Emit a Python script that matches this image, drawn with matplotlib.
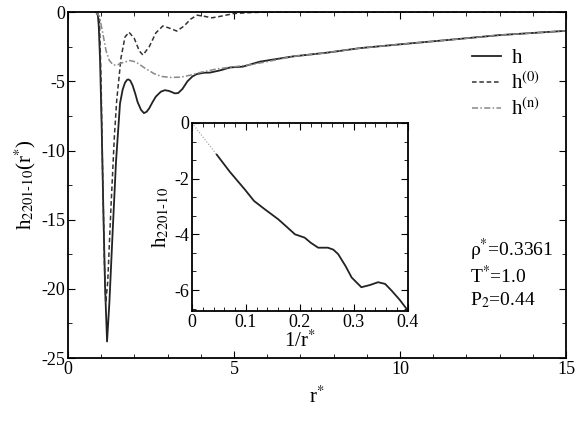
import matplotlib
matplotlib.use("Agg")
import matplotlib.pyplot as plt
from matplotlib.ticker import MultipleLocator, AutoMinorLocator, FormatStrFormatter

# main panel: h(r*) and its two parts
r_h = [0.85, 0.9, 0.93, 0.97, 1.02, 1.07, 1.12, 1.18, 1.25, 1.35, 1.45, 1.57,
       1.65, 1.72, 1.78, 1.82, 1.88, 1.95, 2.03, 2.1, 2.2, 2.29, 2.37, 2.45,
       2.55, 2.65, 2.8, 2.92, 3.05, 3.22, 3.32, 3.45, 3.6, 3.75, 3.88, 4.1,
       4.28, 4.6, 4.88, 5.27, 5.78, 6.78, 7.8, 8.8, 10.3, 11.5, 13.0, 15.0]
h = [0.0, -0.1, -1.0, -3.5, -8.5, -14.5, -19.8, -23.8, -21.0, -15.8, -10.8,
     -6.6, -5.6, -5.1, -4.9, -4.86, -4.95, -5.3, -5.9, -6.5, -7.05, -7.3,
     -7.2, -6.95, -6.5, -6.1, -5.75, -5.64, -5.7, -5.87, -5.85, -5.55, -5.0,
     -4.65, -4.48, -4.38, -4.37, -4.2, -4.0, -3.94, -3.58, -3.2, -2.93, -2.6,
     -2.26, -2.0, -1.66, -1.35]

r_h0 = [0.85, 0.95, 1.0, 1.05, 1.1, 1.14, 1.2, 1.3, 1.4, 1.47, 1.6, 1.72,
        1.84, 2.0, 2.15, 2.26, 2.45, 2.65, 2.86, 3.05, 3.28, 3.5, 3.7, 3.89,
        4.1, 4.34, 4.6, 5.0, 5.5, 6.0, 15.0]
h0 = [0.0, -0.5, -5.0, -12.0, -18.0, -21.0, -19.5, -14.0, -9.0, -6.4, -3.3,
      -1.8, -1.45, -1.9, -2.8, -3.1, -2.5, -1.5, -1.0, -1.15, -1.37, -1.0,
      -0.5, -0.22, -0.3, -0.41, -0.3, -0.1, -0.03, 0.0, 0.0]

r_hn = [0.85, 0.95, 1.05, 1.15, 1.25, 1.37, 1.5, 1.65, 1.87, 2.05, 2.32, 2.6,
        2.82, 3.1, 3.4, 3.7, 4.0, 4.5, 5.0, 5.5, 6.0, 6.78, 7.8, 8.8, 10.3,
        11.5, 13.0, 15.0]
hn = [0.0, -0.3, -1.5, -2.8, -3.5, -3.83, -3.8, -3.65, -3.5, -3.6, -4.05,
      -4.45, -4.65, -4.72, -4.7, -4.55, -4.35, -4.1, -3.95, -3.8, -3.58, -3.2,
      -2.93, -2.6, -2.26, -2.0, -1.66, -1.35]

# inset: h against 1/r*
inv_r_extrap = [0.0, 0.046]
h_extrap = [0.0, -1.14]
inv_r = [0.046, 0.07, 0.098, 0.115, 0.135, 0.16, 0.175, 0.191, 0.209, 0.22,
         0.234, 0.252, 0.262, 0.271, 0.285, 0.296, 0.314, 0.33, 0.345, 0.358,
         0.37, 0.385, 0.398]
h_inv = [-1.14, -1.75, -2.39, -2.8, -3.1, -3.46, -3.72, -4.0, -4.12, -4.3,
         -4.48, -4.48, -4.55, -4.71, -5.15, -5.55, -5.9, -5.82, -5.72, -5.78,
         -6.02, -6.35, -6.68]

plt.rcParams["font.family"] = ["Liberation Serif", "DejaVu Serif"]
plt.rcParams["mathtext.fontset"] = "stix"
plt.rcParams["axes.unicode_minus"] = False

fig = plt.figure(figsize=(5.8, 4.33), dpi=100)
ax = fig.add_axes([0.117, 0.173, 0.859, 0.799])

ax.plot(r_h, h, color="#222222", lw=1.3, label="h")
ax.plot(r_h0, h0, color="#333333", lw=1.1, ls=(0, (3, 1.8)),
        label=r"h$^{\rm (0)}$")
ax.plot(r_hn, hn, color="#888888", lw=1.1, ls=(0, (4, 1.5, 1, 1.5)),
        label=r"h$^{\rm (n)}$")

ax.set_xlim(0, 15)
ax.set_ylim(-25, 0)
ax.xaxis.set_major_locator(MultipleLocator(5))
ax.xaxis.set_minor_locator(MultipleLocator(1))
ax.yaxis.set_major_locator(MultipleLocator(5))
ax.yaxis.set_minor_locator(MultipleLocator(2.5))
ax.tick_params(which="both", direction="in", top=True, right=True,
               labelsize=13, pad=2)
ax.tick_params(which="major", length=5)
ax.tick_params(which="minor", length=3)
for s in ax.spines.values():
    s.set_linewidth(1.3)
ax.set_xlabel(r"r$^{*}$", fontsize=15, labelpad=6)
ax.set_ylabel(r"h$_{\rm 2201\text{-}10}$(r$^{*}$)", fontsize=15, labelpad=2)

ax.legend(loc="upper left", bbox_to_anchor=(0.79, 0.925), frameon=False,
          fontsize=15, handlelength=1.4, handletextpad=0.5, labelspacing=0.2,
          borderpad=0)

ax.text(12.1, -17.2, r"$\rm\rho^{*}$=0.3361", fontsize=14, va="center")
ax.text(12.1, -19.1, r"T$^{*}$=1.0", fontsize=14, va="center")
ax.text(12.1, -20.8, r"P$_{2}$=0.44", fontsize=14, va="center")

# inset
ins = fig.add_axes([0.331, 0.282, 0.372, 0.434])
ins.plot(inv_r_extrap, h_extrap, color="#999999", lw=0.8, ls=":")
ins.plot(inv_r, h_inv, color="#222222", lw=1.3)
ins.set_xlim(0, 0.4)
ins.set_ylim(-6.75, 0)
ins.xaxis.set_major_locator(MultipleLocator(0.1))
ins.xaxis.set_minor_locator(MultipleLocator(0.02))
ins.xaxis.set_major_formatter(FormatStrFormatter("%g"))
ins.yaxis.set_major_locator(MultipleLocator(2))
ins.yaxis.set_minor_locator(AutoMinorLocator(3))
ins.tick_params(which="both", direction="in", top=True, right=True,
                labelsize=13, pad=2)
ins.tick_params(which="major", length=5)
ins.tick_params(which="minor", length=3)
for s in ins.spines.values():
    s.set_linewidth(1.3)
ins.set_xlabel(r"1/r$^{*}$", fontsize=15, labelpad=0)
ins.set_ylabel(r"h$_{\rm 2201\text{-}10}$", fontsize=15, labelpad=2)

fig.savefig("out.png", dpi=100)
